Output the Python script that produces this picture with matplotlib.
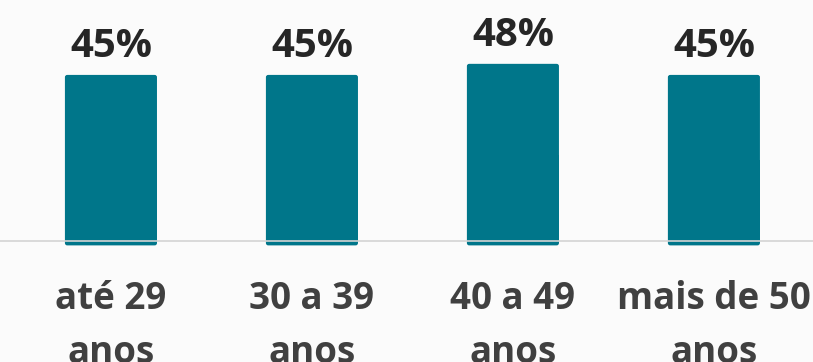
import matplotlib
matplotlib.use("Agg")
import matplotlib.pyplot as plt
from matplotlib.patches import FancyBboxPatch

categories = ["até 29\nanos", "30 a 39\nanos", "40 a 49\nanos", "mais de 50\nanos"]
values = [45, 45, 48, 45]
value_labels = ["45%", "45%", "48%", "45%"]

BAR_COLOR = "#00768A"
BG = "#fbfbfb"
plt.rcParams["font.family"] = ["Open Sans", "DejaVu Sans"]

fig = plt.figure(figsize=(8.13, 3.62), dpi=100, facecolor=BG)
ax = fig.add_axes([0, 0, 1, 1])
ax.set_facecolor(BG)
ax.set_xlim(-0.552, 3.493)
ax.set_ylim(-32.8, 65.3)
ax.axis("off")

x = list(range(len(values)))
bars = ax.bar(x, values, width=0.458, bottom=0, color=BAR_COLOR, zorder=2)

# soften the top corners of each bar
for b in bars:
    b.set_visible(False)
    bx, by = b.get_x(), b.get_y()
    w, h = b.get_width(), b.get_height()
    r = 0.012
    patch = FancyBboxPatch((bx + r, by - 0.6), w - 2 * r, h + 0.6 - r * 50,
                           boxstyle=f"round,pad={r}", mutation_aspect=50,
                           facecolor=BAR_COLOR, edgecolor="none", zorder=2)
    ax.add_patch(patch)
    ax.add_patch(plt.Rectangle((bx, by - 0.6), w, h / 2, facecolor=BAR_COLOR,
                               edgecolor="none", zorder=2))

ax.axhline(0, color="#d4d4d4", lw=1.2, zorder=3)

for xi, v, lab in zip(x, values, value_labels):
    ax.annotate(lab, (xi, v), xytext=(0, 13), textcoords="offset points",
                ha="center", va="baseline", fontsize=29, fontweight="bold",
                color="#262626")

for xi, cat in zip(x, categories):
    ax.annotate(cat, (xi, 0), xytext=(0, -88), textcoords="offset points",
                ha="center", va="baseline", fontsize=26.5, fontweight="bold",
                color="#404040", linespacing=1.55)

fig.savefig("out.png", dpi=100, facecolor=BG)
